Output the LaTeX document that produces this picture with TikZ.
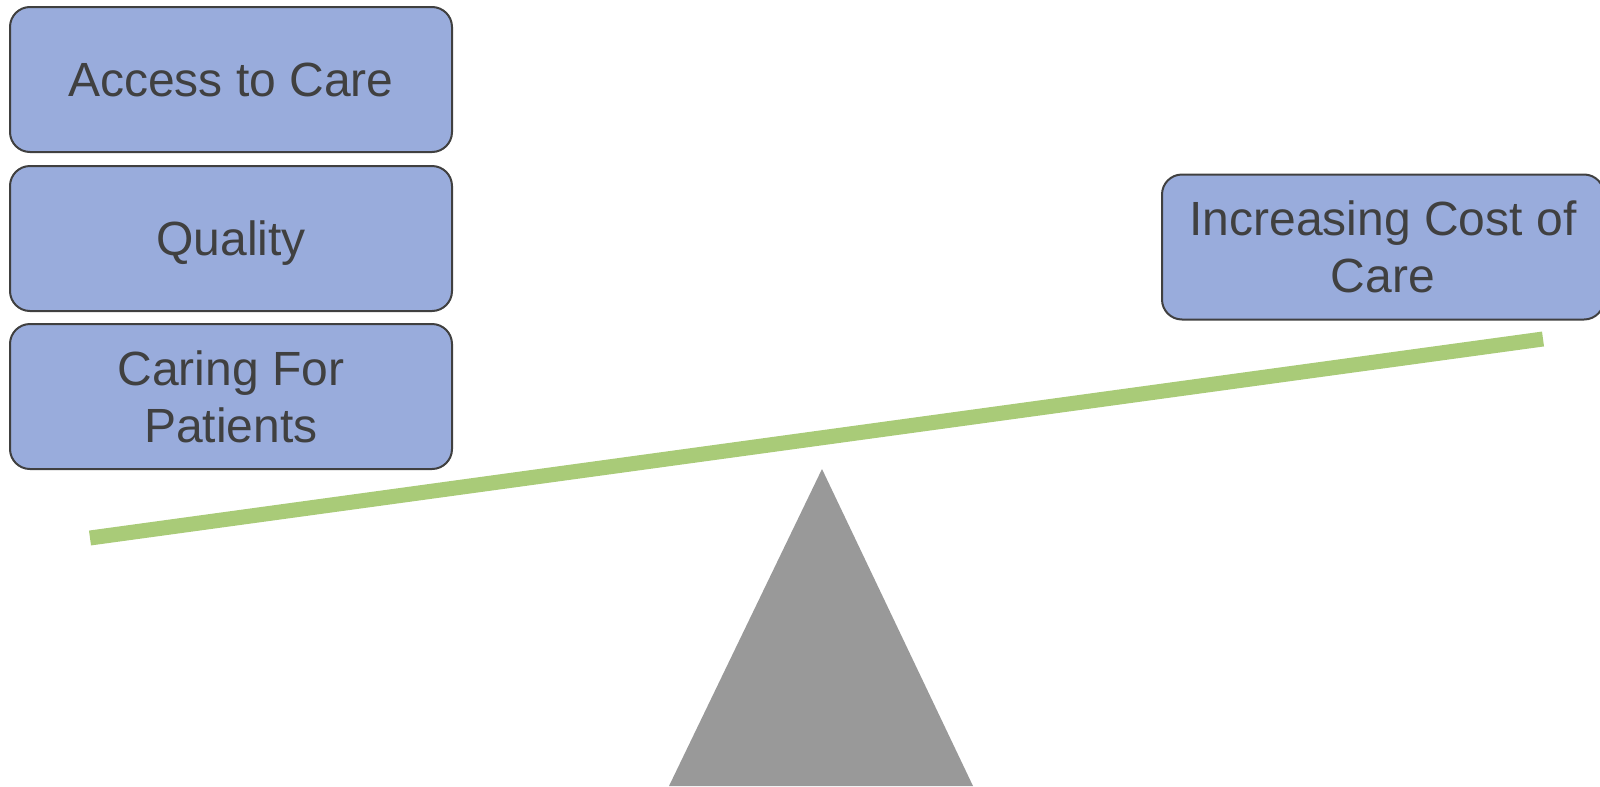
\documentclass[tikz,border=0pt]{standalone}
\usepackage{fontspec}
\setmainfont{Liberation Sans}
\definecolor{boxfill}{HTML}{99ACDC}
\definecolor{boxline}{HTML}{404040}
\definecolor{beam}{HTML}{A9CB78}
\definecolor{fulcrum}{HTML}{999999}
\tikzset{
  px/.style={x=0.75pt,y=-0.75pt},
  factor/.style={draw=boxline, line width=1.5pt, fill=boxfill, rounded corners=15pt,
    minimum width=331.5pt, minimum height=108.75pt, inner sep=0pt, align=center,
    text=boxline, font=\fontsize{36}{42.75}\selectfont},
}
\begin{document}
\begin{tikzpicture}[px]
\useasboundingbox (0,0) rectangle (1600,786);
\clip (0,0) rectangle (1600,786);
\fill[fulcrum] (822,469) -- (669,786) -- (973,786) -- cycle;
\coordinate (beamL) at (90,538);
\coordinate (beamR) at (1543,339);
\draw[beam, line width=11.25pt] (beamL) -- (beamR);
\node[factor] (access) at (231,79.5) {Access to Care};
\node[factor, text depth=0pt] (quality) at (231,238.5) {Quality};
\node[factor] (caring) at (231,396.5) {Caring For\\Patients};
\node[factor] (cost) at (1383,247) {Increasing Cost of\\Care};
\end{tikzpicture}
\end{document}
